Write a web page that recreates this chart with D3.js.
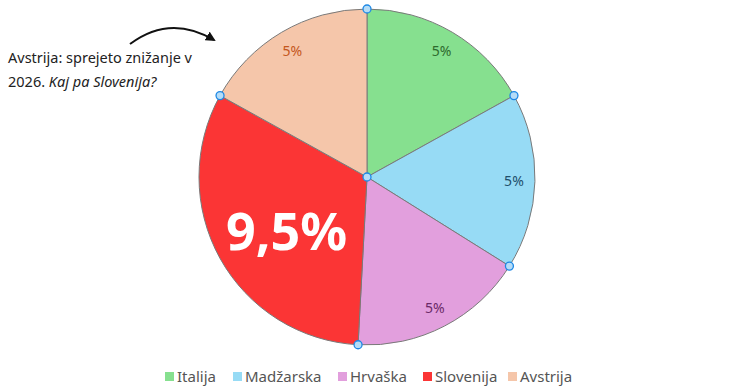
<!DOCTYPE html>
<html><head><meta charset="utf-8">
<script src="https://cdn.jsdelivr.net/npm/d3@7"></script>
<style>body{margin:0;background:#fff}svg{display:block;font-family:"Noto Sans","Open Sans",sans-serif}</style>
</head><body>
<svg id="c" width="736" height="392"></svg>
<script>
const categories = ["Italija","Madžarska","Hrvaška","Slovenija","Avstrija"];
const values = [5,5,5,9.5,5];
const labels = ["5%","5%","5%","9,5%","5%"];
const colors = ["#86e08f","#97dbf5","#e29fdd","#fb3535","#f5c6aa"];
const labelColors = ["#2e6b2e","#1f4f6b","#6b2a68","#ffffff","#c4571c"];

const svg = d3.select("#c");
const cx = 367, cy = 177, R = 168;
const g = svg.append("g").attr("transform",`translate(${cx},${cy})`);
const pie = d3.pie().sort(null).value(d=>d)(values);
const arc = d3.arc().innerRadius(0).outerRadius(R);

g.selectAll("path.s").data(pie).join("path").attr("class","s")
  .attr("d",arc).attr("fill",(d,i)=>colors[i])
  .attr("stroke","#7a7a7a").attr("stroke-width",1);

// labels
const lblArc = d3.arc().innerRadius(147).outerRadius(147);
const bigArc = d3.arc().innerRadius(100).outerRadius(100);
g.selectAll("text.l").data(pie).join("text").attr("class","l")
  .attr("transform",(d,i)=>{
    let [x,y] = (i===3?bigArc:lblArc).centroid(d);
    if(i===3){ x+=7; y+=4; }
    return `translate(${x},${y})`;
  })
  .attr("text-anchor","middle").attr("dominant-baseline","central")
  .attr("fill",(d,i)=>labelColors[i])
  .attr("font-size",(d,i)=>i===3?52:14)
  .attr("font-weight",(d,i)=>i===3?700:400)
  .text((d,i)=>labels[i]);

// boundary markers
const pts = [];
pie.forEach(d=>{ pts.push([Math.sin(d.startAngle)*R, -Math.cos(d.startAngle)*R]); });
pts.push([0,0]);
g.selectAll("circle.m").data(pts).join("circle").attr("class","m")
  .attr("cx",d=>d[0]).attr("cy",d=>d[1]).attr("r",4)
  .attr("fill","#b5dcf7").attr("stroke","#1e88e5").attr("stroke-width",1.3);

// annotation
const ann = svg.append("text").attr("x",8).attr("font-size",14.5).attr("fill","#222");
ann.append("tspan").attr("x",8).attr("y",63).text("Avstrija: sprejeto znižanje v");
const l2 = ann.append("tspan").attr("x",8).attr("y",87);
l2.text("2026. ");
ann.append("tspan").attr("font-style","italic").text("Kaj pa Slovenija?");

svg.append("defs").append("marker").attr("id","ah").attr("viewBox","0 0 10 10")
  .attr("refX",8).attr("refY",5).attr("markerWidth",5).attr("markerHeight",5)
  .attr("orient","auto").append("path").attr("d","M0,0L10,5L0,10Z").attr("fill","#111");
svg.append("path").attr("d","M130,44 Q170,14 214,40").attr("fill","none")
  .attr("stroke","#111").attr("stroke-width",2).attr("marker-end","url(#ah)");

// legend
const legX = [165,233,338,423,508];
const lg = svg.append("g");
categories.forEach((c,i)=>{
  lg.append("rect").attr("x",legX[i]).attr("y",372).attr("width",9).attr("height",9).attr("fill",colors[i]);
  lg.append("text").attr("x",legX[i]+12).attr("y",382).attr("font-size",15).attr("fill","#555").text(c);
});
</script>
</body></html>
